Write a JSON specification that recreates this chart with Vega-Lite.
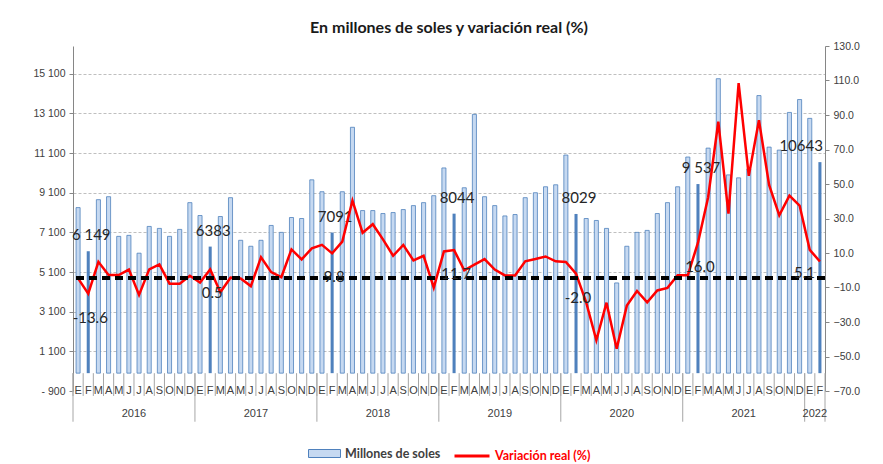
{
  "$schema": "https://vega.github.io/schema/vega-lite/v6.json",
  "width": 752,
  "height": 345,
  "padding": {"left": 32, "top": 20, "right": 5, "bottom": 5},
  "title": {"text": "En millones de soles y variación real (%)", "font": "Lato", "fontSize": 16, "fontWeight": "bold", "color": "#1a1a1a", "offset": 5},
  "config": {
    "view": {"stroke": null},
    "font": "Lato",
    "axis": {"labelFont": "Liberation Sans", "labelFontSize": 10.5, "labelColor": "#404040", "domainColor": "#868686", "tickColor": "#868686", "tickSize": 4, "labelPadding": 4, "title": null, "labelOverlap": false},
    "legend": {"layout": {"bottom": {"anchor": "middle", "direction": "horizontal", "margin": 12}}}
  },
  "data": {"values": [
    {"f":"2016-01","y":"2016","m":1,"mes":"E","v":8350,"r":-4.7},
    {"f":"2016-02","y":"2016","m":2,"mes":"F","v":6149,"r":-13.6,"lv":"6 149","lr":"-13.6"},
    {"f":"2016-03","y":"2016","m":3,"mes":"M","v":8750,"r":4.9},
    {"f":"2016-04","y":"2016","m":4,"mes":"A","v":8900,"r":-2.8},
    {"f":"2016-05","y":"2016","m":5,"mes":"M","v":6900,"r":-2.8},
    {"f":"2016-06","y":"2016","m":6,"mes":"J","v":6950,"r":0.4},
    {"f":"2016-07","y":"2016","m":7,"mes":"J","v":6050,"r":-14.3},
    {"f":"2016-08","y":"2016","m":8,"mes":"A","v":7400,"r":0.5},
    {"f":"2016-09","y":"2016","m":9,"mes":"S","v":7300,"r":3.4},
    {"f":"2016-10","y":"2016","m":10,"mes":"O","v":6900,"r":-7.8},
    {"f":"2016-11","y":"2016","m":11,"mes":"N","v":7250,"r":-7.8},
    {"f":"2016-12","y":"2016","m":12,"mes":"D","v":8600,"r":-3.2},
    {"f":"2017-01","y":"2017","m":1,"mes":"E","v":7950,"r":-7.1},
    {"f":"2017-02","y":"2017","m":2,"mes":"F","v":6383,"r":0.5,"lv":"6383","lr":"0.5"},
    {"f":"2017-03","y":"2017","m":3,"mes":"M","v":7900,"r":-12.7},
    {"f":"2017-04","y":"2017","m":4,"mes":"A","v":8850,"r":-4.3},
    {"f":"2017-05","y":"2017","m":5,"mes":"M","v":6700,"r":-4.8},
    {"f":"2017-06","y":"2017","m":6,"mes":"J","v":6400,"r":-9.2},
    {"f":"2017-07","y":"2017","m":7,"mes":"J","v":6700,"r":7.5},
    {"f":"2017-08","y":"2017","m":8,"mes":"A","v":7450,"r":-1.1},
    {"f":"2017-09","y":"2017","m":9,"mes":"S","v":7100,"r":-4.0},
    {"f":"2017-10","y":"2017","m":10,"mes":"O","v":7850,"r":12.1},
    {"f":"2017-11","y":"2017","m":11,"mes":"N","v":7800,"r":6.3},
    {"f":"2017-12","y":"2017","m":12,"mes":"D","v":9750,"r":12.7},
    {"f":"2018-01","y":"2018","m":1,"mes":"E","v":9150,"r":14.7},
    {"f":"2018-02","y":"2018","m":2,"mes":"F","v":7091,"r":9.8,"lv":"7091","lr":"9.8"},
    {"f":"2018-03","y":"2018","m":3,"mes":"M","v":9150,"r":16.6},
    {"f":"2018-04","y":"2018","m":4,"mes":"A","v":12400,"r":40.4},
    {"f":"2018-05","y":"2018","m":5,"mes":"M","v":8200,"r":21.7},
    {"f":"2018-06","y":"2018","m":6,"mes":"J","v":8200,"r":26.7},
    {"f":"2018-07","y":"2018","m":7,"mes":"J","v":8050,"r":17.9},
    {"f":"2018-08","y":"2018","m":8,"mes":"A","v":8100,"r":8.4},
    {"f":"2018-09","y":"2018","m":9,"mes":"S","v":8250,"r":14.7},
    {"f":"2018-10","y":"2018","m":10,"mes":"O","v":8450,"r":5.7},
    {"f":"2018-11","y":"2018","m":11,"mes":"N","v":8600,"r":8.4},
    {"f":"2018-12","y":"2018","m":12,"mes":"D","v":8950,"r":-10.1},
    {"f":"2019-01","y":"2019","m":1,"mes":"E","v":10350,"r":10.9},
    {"f":"2019-02","y":"2019","m":2,"mes":"F","v":8044,"r":11.7,"lv":"8044","lr":"11.7"},
    {"f":"2019-03","y":"2019","m":3,"mes":"M","v":9350,"r":0.0},
    {"f":"2019-04","y":"2019","m":4,"mes":"A","v":13050,"r":3.3},
    {"f":"2019-05","y":"2019","m":5,"mes":"M","v":8900,"r":6.5},
    {"f":"2019-06","y":"2019","m":6,"mes":"J","v":8450,"r":0.4},
    {"f":"2019-07","y":"2019","m":7,"mes":"J","v":7930,"r":-3.0},
    {"f":"2019-08","y":"2019","m":8,"mes":"A","v":8000,"r":-3.0},
    {"f":"2019-09","y":"2019","m":9,"mes":"S","v":8850,"r":5.2},
    {"f":"2019-10","y":"2019","m":10,"mes":"O","v":9100,"r":6.5},
    {"f":"2019-11","y":"2019","m":11,"mes":"N","v":9400,"r":8.0},
    {"f":"2019-12","y":"2019","m":12,"mes":"D","v":9500,"r":5.2},
    {"f":"2020-01","y":"2020","m":1,"mes":"E","v":11000,"r":4.8},
    {"f":"2020-02","y":"2020","m":2,"mes":"F","v":8029,"r":-2.0,"lv":"8029","lr":"-2.0"},
    {"f":"2020-03","y":"2020","m":3,"mes":"M","v":7800,"r":-18.6},
    {"f":"2020-04","y":"2020","m":4,"mes":"A","v":7700,"r":-40.6},
    {"f":"2020-05","y":"2020","m":5,"mes":"M","v":7300,"r":-18.8},
    {"f":"2020-06","y":"2020","m":6,"mes":"J","v":4550,"r":-45.5},
    {"f":"2020-07","y":"2020","m":7,"mes":"J","v":6400,"r":-20.5},
    {"f":"2020-08","y":"2020","m":8,"mes":"A","v":7100,"r":-12.0},
    {"f":"2020-09","y":"2020","m":9,"mes":"S","v":7200,"r":-18.6},
    {"f":"2020-10","y":"2020","m":10,"mes":"O","v":8050,"r":-11.7},
    {"f":"2020-11","y":"2020","m":11,"mes":"N","v":8600,"r":-10.2},
    {"f":"2020-12","y":"2020","m":12,"mes":"D","v":9400,"r":-2.9},
    {"f":"2021-01","y":"2021","m":1,"mes":"E","v":10900,"r":-2.9},
    {"f":"2021-02","y":"2021","m":2,"mes":"F","v":9537,"r":16.0,"lv":"9 537","lr":"16.0"},
    {"f":"2021-03","y":"2021","m":3,"mes":"M","v":11350,"r":42.3},
    {"f":"2021-04","y":"2021","m":4,"mes":"A","v":14850,"r":86.1},
    {"f":"2021-05","y":"2021","m":5,"mes":"M","v":10000,"r":32.8},
    {"f":"2021-06","y":"2021","m":6,"mes":"J","v":9850,"r":108.5},
    {"f":"2021-07","y":"2021","m":7,"mes":"J","v":10300,"r":54.7},
    {"f":"2021-08","y":"2021","m":8,"mes":"A","v":14000,"r":87.0},
    {"f":"2021-09","y":"2021","m":9,"mes":"S","v":11400,"r":49.5},
    {"f":"2021-10","y":"2021","m":10,"mes":"O","v":11250,"r":31.8},
    {"f":"2021-11","y":"2021","m":11,"mes":"N","v":13150,"r":43.3},
    {"f":"2021-12","y":"2021","m":12,"mes":"D","v":13800,"r":37.5},
    {"f":"2022-01","y":"2022","m":1,"mes":"E","v":12850,"r":11.8},
    {"f":"2022-02","y":"2022","m":2,"mes":"F","v":10643,"r":5.1,"lv":"10643","lr":"5.1"}
  ]},
  "layer": [
    {
      "layer": [
        {
          "transform": [{"filter": "datum.m != 2"}],
          "mark": {"type": "bar", "width": {"band": 0.4}, "stroke": "#4f81bd", "strokeWidth": 0.8},
          "encoding": {
            "x": {"field": "f", "type": "ordinal", "axis": null, "scale": {"type": "band", "paddingInner": 0, "paddingOuter": 0}},
            "y": {"field": "v", "type": "quantitative", "scale": {"domain": [-900, 16500], "nice": false, "zero": false},
              "axis": {"orient": "left", "values": [-900, 1100, 3100, 5100, 7100, 9100, 11100, 13100, 15100], "tickCount": 12,
                "labelExpr": "datum.value < 0 ? '-   900' : replace(format(datum.value, ','), ',', ' ')",
                "grid": true, "gridDash": [3, 2], "gridColor": "#bfbfbf", "labelOverlap": false,
                "gridOpacity": {"condition": {"test": "datum.value < 0", "value": 0}, "value": 1}}},
            "fill": {"datum": "Millones de soles", "scale": {"range": ["#c6d9f1"]},
              "legend": {"orient": "bottom", "title": null, "offset": 46, "symbolType": "M-1,-0.25H1V0.25H-1Z", "symbolSize": 1024,
                "symbolStrokeColor": "#4f81bd", "symbolStrokeWidth": 1, "labelFontSize": 12.5, "labelFontWeight": "bold", "labelColor": "#404040", "labelFont": "Lato"}}
          }
        },
        {
          "transform": [{"filter": "datum.m == 2"}],
          "mark": {"type": "bar", "width": {"band": 0.3}, "color": "#4f81bd"},
          "encoding": {
            "x": {"field": "f", "type": "ordinal", "scale": {"type": "band"}},
            "y": {"field": "v", "type": "quantitative"}
          }
        },
        {
          "mark": {"type": "rule", "color": "#a6a6a6", "strokeWidth": 1},
          "encoding": {
            "x": {"field": "f", "type": "ordinal", "bandPosition": 0},
            "y": {"datum": 0},
            "y2": {"datum": -1150}
          }
        },
        {
          "transform": [{"filter": "datum.m == 1"}],
          "mark": {"type": "rule", "color": "#a6a6a6", "strokeWidth": 1},
          "encoding": {
            "x": {"field": "f", "type": "ordinal", "bandPosition": 0},
            "y": {"datum": 0},
            "y2": {"datum": -2450}
          }
        },
        {
          "transform": [{"filter": "datum.f == '2022-02'"}],
          "mark": {"type": "rule", "color": "#a6a6a6", "strokeWidth": 1},
          "encoding": {
            "x": {"field": "f", "type": "ordinal", "bandPosition": 1},
            "y": {"datum": 0},
            "y2": {"datum": -2450}
          }
        },
        {
          "mark": {"type": "text", "fontSize": 11, "color": "#404040", "font": "Liberation Sans", "baseline": "middle"},
          "encoding": {
            "x": {"field": "f", "type": "ordinal"},
            "y": {"datum": -900},
            "text": {"field": "mes"}
          }
        },
        {
          "transform": [{"filter": "datum.m == 7 || datum.f == '2022-02'"}],
          "mark": {"type": "text", "fontSize": 11, "color": "#404040", "font": "Liberation Sans", "baseline": "middle"},
          "encoding": {
            "x": {"field": "f", "type": "ordinal", "bandPosition": 0},
            "y": {"datum": -2060},
            "text": {"field": "y"}
          }
        },
        {
          "transform": [{"filter": "datum.lv && datum.f != '2022-02'"}],
          "mark": {"type": "text", "fontSize": 15, "color": "#262626", "dy": -16, "dx": 3, "baseline": "middle"},
          "encoding": {
            "x": {"field": "f", "type": "ordinal"},
            "y": {"field": "v", "type": "quantitative"},
            "text": {"field": "lv"}
          }
        },
        {
          "transform": [{"filter": "datum.f == '2022-02'"}],
          "mark": {"type": "text", "fontSize": 15, "color": "#262626", "dy": -16, "dx": 3, "align": "right", "baseline": "middle"},
          "encoding": {
            "x": {"field": "f", "type": "ordinal"},
            "y": {"field": "v", "type": "quantitative"},
            "text": {"field": "lv"}
          }
        }
      ]
    },
    {
      "layer": [
        {
          "mark": {"type": "line", "strokeWidth": 2.5},
          "encoding": {
            "x": {"field": "f", "type": "ordinal"},
            "y": {"field": "r", "type": "quantitative", "scale": {"domain": [-70, 130], "nice": false, "zero": false},
              "axis": {"orient": "right", "values": [-70, -50, -30, -10, 10, 30, 50, 70, 90, 110, 130], "tickCount": 12, "format": ".1f", "grid": false, "labelOverlap": false}},
            "stroke": {"datum": "Variación real (%)", "scale": {"range": ["#ff0000"]},
              "legend": {"orient": "bottom", "title": null, "offset": 46, "symbolType": "stroke", "symbolSize": 1225, "symbolStrokeWidth": 3,
                "labelFontSize": 12.5, "labelFontWeight": "bold", "labelColor": "#ff0000", "labelFont": "Lato"}}
          }
        },
        {
          "mark": {"type": "rule", "color": "#000000", "strokeWidth": 2.5, "strokeDash": [8, 5]},
          "encoding": {"y": {"datum": -4.5}}
        },
        {
          "transform": [{"filter": "datum.lr && datum.f != '2022-02'"}],
          "mark": {"type": "text", "fontSize": 15, "color": "#262626", "dy": 24, "dx": 2, "baseline": "middle"},
          "encoding": {
            "x": {"field": "f", "type": "ordinal"},
            "y": {"field": "r", "type": "quantitative"},
            "text": {"field": "lr"}
          }
        },
        {
          "transform": [{"filter": "datum.f == '2022-02'"}],
          "mark": {"type": "text", "fontSize": 15, "color": "#262626", "dy": 12, "dx": -5, "align": "right", "baseline": "middle"},
          "encoding": {
            "x": {"field": "f", "type": "ordinal"},
            "y": {"field": "r", "type": "quantitative"},
            "text": {"field": "lr"}
          }
        }
      ]
    }
  ],
  "resolve": {"scale": {"y": "independent"}}
}
